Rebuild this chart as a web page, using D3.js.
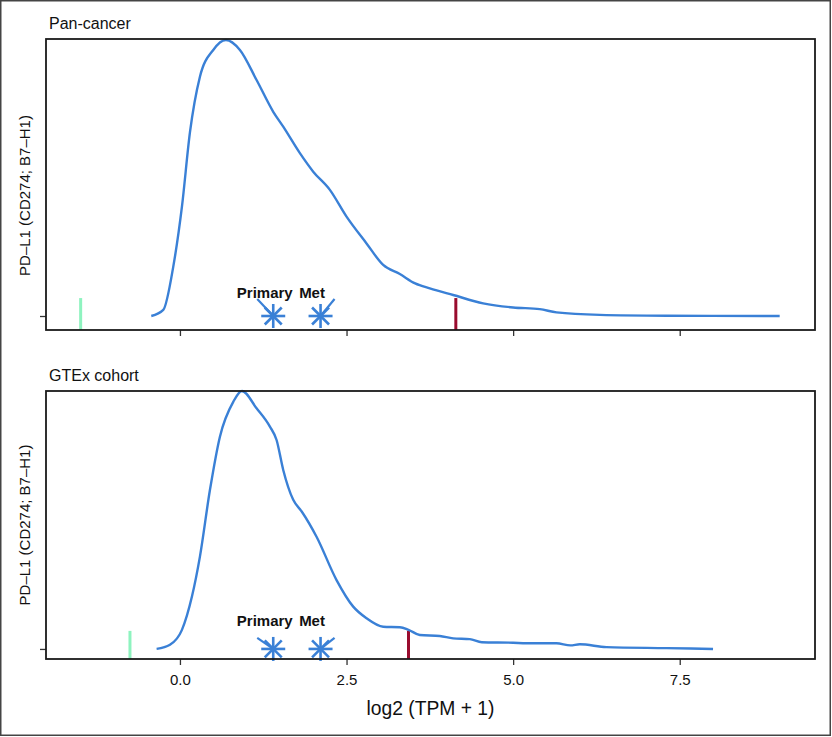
<!DOCTYPE html>
<html>
<head>
<meta charset="utf-8">
<script src="https://cdn.jsdelivr.net/npm/d3@7"></script>
<style>
  body { margin: 0; background: #fff; }
  text { font-family: "Liberation Sans", Arial, sans-serif; fill: #111; }
</style>
</head>
<body>
<svg id="chart"></svg>
<script>
// density of log2(TPM + 1), pan-cancer cohort (scaled so the peak is 1)
let pan_x = [-0.43, -0.25, -0.10, 0.03, 0.15, 0.30, 0.50, 0.69, 0.90, 1.15, 1.40, 1.55, 1.80, 2.00, 2.25, 2.50, 2.80, 3.05, 3.30, 3.53, 3.75, 4.10, 4.55, 5.00, 5.40, 5.65, 6.30, 7.30, 9.00];
let pan_d = [0.0, 0.022, 0.179, 0.396, 0.665, 0.867, 0.964, 1.0, 0.964, 0.855, 0.74, 0.686, 0.59, 0.523, 0.457, 0.36, 0.263, 0.185, 0.152, 0.118, 0.10, 0.076, 0.046, 0.031, 0.025, 0.013, 0.004, 0.001, 0.0];

// density, GTEx cohort
let gtex_x = [-0.35, -0.15, 0.03, 0.18, 0.30, 0.45, 0.60, 0.80, 0.93, 1.15, 1.35, 1.45, 1.55, 1.70, 1.83, 2.05, 2.35, 2.60, 2.80, 3.05, 3.30, 3.43, 3.60, 3.90, 4.10, 4.35, 4.53, 5.00, 5.20, 5.65, 5.86, 6.00, 6.40, 7.30, 8.00];
let gtex_d = [0.0, 0.016, 0.074, 0.203, 0.358, 0.616, 0.823, 0.958, 1.0, 0.933, 0.862, 0.81, 0.694, 0.578, 0.532, 0.435, 0.267, 0.164, 0.119, 0.086, 0.084, 0.074, 0.054, 0.050, 0.041, 0.038, 0.026, 0.024, 0.022, 0.022, 0.014, 0.018, 0.007, 0.003, 0.0];

let panel_titles = ['Pan-cancer', 'GTEx cohort'];
let green_x = [-1.49, -0.75];   // low marker
let red_x = [4.14, 3.43];       // high marker
let marker_top = [0.065, 0.07];
let sample_labels = ['Primary', 'Met'];
let sample_x = [1.40, 2.11];
let x_ticks = [0, 2.5, 5, 7.5];
let y_domains = [[-0.0507, 1.0036], [-0.039, 1.0]];

let width = 832, height = 737;
let blue = '#3a80d6', green = '#8ef3bf', red = '#990c2e';

let svg = d3.select('#chart')
    .attr('width', width)
    .attr('height', height);

// outer frame
svg.append('rect')
    .attr('x', 0.75).attr('y', 0.75)
    .attr('width', width - 2.5).attr('height', height - 2.5)
    .attr('fill', 'none')
    .attr('stroke', '#444')
    .attr('stroke-width', 1.5);

let x = d3.scaleLinear()
    .domain([-2.01, 9.53])
    .range([46, 815]);

let panels = [
    { top: 39, bottom: 330, xs: pan_x, ds: pan_d },
    { top: 391, bottom: 659, xs: gtex_x, ds: gtex_d }
];

// star = asterisk with 8 arms
function star(g, cx, cy, r) {
    for (let k = 0; k < 4; k++) {
        let a = k * Math.PI / 4;
        g.append('line')
            .attr('x1', cx - r * Math.cos(a)).attr('y1', cy - r * Math.sin(a))
            .attr('x2', cx + r * Math.cos(a)).attr('y2', cy + r * Math.sin(a))
            .attr('stroke', blue)
            .attr('stroke-width', 2.6);
    }
}

panels.forEach((p, i) => {
    let y = d3.scaleLinear()
        .domain(y_domains[i])
        .range([p.bottom, p.top]);
    let g = svg.append('g');

    // title
    g.append('text')
        .attr('x', 49)
        .attr('y', p.top - 10)
        .attr('font-size', '16px')
        .text(panel_titles[i]);

    // y label
    g.append('text')
        .attr('transform', `translate(30, ${(p.top + p.bottom) / 2 + (i === 0 ? 11 : 0)}) rotate(-90)`)
        .attr('text-anchor', 'middle')
        .attr('font-size', '15px')
        .text('PD–L1 (CD274; B7–H1)');

    // axes
    let axis_x = d3.axisBottom(x)
        .tickValues(x_ticks)
        .tickSize(6)
        .tickPadding(9)
        .tickFormat(i === 1 ? d3.format('.1f') : '');
    let ax = g.append('g')
        .attr('transform', `translate(0, ${p.bottom})`)
        .call(axis_x);
    ax.select('.domain').remove();
    ax.selectAll('line').attr('stroke', '#333').attr('stroke-width', 1.3);
    ax.selectAll('text').attr('font-size', '15px')
        .attr('font-family', '"Liberation Sans", Arial, sans-serif').attr('fill', '#111');

    let axis_y = d3.axisLeft(y)
        .tickValues([0])
        .tickSize(6)
        .tickFormat('');
    let ay = g.append('g')
        .attr('transform', `translate(46, 0)`)
        .call(axis_y);
    ay.select('.domain').remove();
    ay.selectAll('line').attr('stroke', '#333').attr('stroke-width', 1.3);

    // low / high marker lines
    g.append('line')
        .attr('x1', x(green_x[i])).attr('x2', x(green_x[i]))
        .attr('y1', y(marker_top[i])).attr('y2', y(y_domains[i][0]))
        .attr('stroke', green).attr('stroke-width', 3);
    g.append('line')
        .attr('x1', x(red_x[i])).attr('x2', x(red_x[i]))
        .attr('y1', y(marker_top[i])).attr('y2', y(y_domains[i][0]))
        .attr('stroke', red).attr('stroke-width', 3);

    // density curve
    let line = d3.line()
        .x(d => x(d[0]))
        .y(d => y(d[1]))
        .curve(d3.curveMonotoneX);
    g.append('path')
        .datum(d3.zip(p.xs, p.ds))
        .attr('d', line)
        .attr('fill', 'none')
        .attr('stroke', blue)
        .attr('stroke-width', 2.4);

    // samples: stars, repel segments and labels
    sample_x.forEach((sx, j) => {
        let cx = x(sx), cy = y(0);
        let dx = j === 0 ? -16 : 14;
        let dy = i === 0 ? -17 : -11;
        g.append('line')
            .attr('x1', cx).attr('y1', cy)
            .attr('x2', cx + dx).attr('y2', cy + dy)
            .attr('stroke', blue).attr('stroke-width', 2.2);
        star(g, cx, cy, 12);
        g.append('text')
            .attr('x', cx - 8.5)
            .attr('y', cy - (i === 0 ? 18.5 : 22.5))
            .attr('text-anchor', 'middle')
            .attr('font-size', '15px')
            .attr('font-weight', 'bold')
            .text(sample_labels[j]);
    });

    // panel box
    g.append('rect')
        .attr('x', 46).attr('y', p.top)
        .attr('width', 815 - 46).attr('height', p.bottom - p.top)
        .attr('fill', 'none')
        .attr('stroke', '#1a1a1a')
        .attr('stroke-width', 1.8);
});

// x axis title
svg.append('text')
    .attr('x', 430.5)
    .attr('y', 715)
    .attr('text-anchor', 'middle')
    .attr('font-size', '20px')
    .attr('textLength', 128)
    .attr('lengthAdjust', 'spacingAndGlyphs')
    .text('log2 (TPM + 1)');
</script>
</body>
</html>
